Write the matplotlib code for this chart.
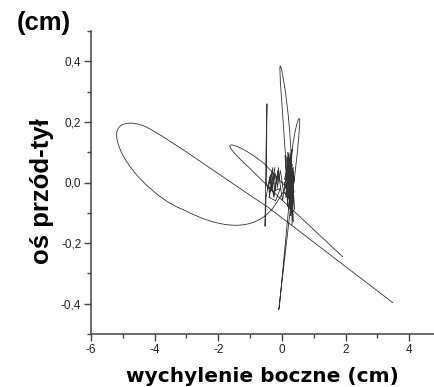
"""Stabilogram: sway path of the centre of pressure (lateral vs. antero-posterior)."""
import matplotlib
matplotlib.use("Agg")

import matplotlib.pyplot as plt
from matplotlib.path import Path
from matplotlib.patches import PathPatch
from matplotlib.ticker import FuncFormatter, MultipleLocator

plt.rcParams["axes.unicode_minus"] = False

# Sway path, in cm. "M" starts, "L" is a straight step,
# "C" points come in threes (two Bezier handles, then the end point).
knot_x = [0.05, 0.20, 0.32, 0.12, 0.36, 0.18, 0.28, 0.40, 0.08, 0.30, 0.22,
          0.38, 0.14, 0.33, 0.25, 0.10, 0.18, 0.22, 0.30, 0.26, 0.35, 0.15,
          0.28, 0.20, 0.38, 0.24, 0.32, 0.12, 0.30, 0.40, 0.22, 0.34, 0.18,
          0.28, 0.36, 0.08, 0.26, 0.05]
knot_y = [-0.03, 0.00, 0.06, -0.04, 0.03, 0.08, -0.07, 0.02, 0.01, 0.10, -0.09,
          -0.03, 0.05, -0.10, 0.07, 0.09, -0.08, 0.10, -0.10, 0.06, -0.06, 0.08,
          -0.11, 0.04, 0.02, -0.07, 0.11, -0.04, 0.07, -0.09, 0.05, -0.03, 0.10,
          -0.08, 0.04, 0.00, -0.06, -0.03]
left_x = [-0.05, -0.15, -0.10, -0.25, -0.20, -0.35, -0.28, -0.42, -0.38,
          -0.20, -0.05, -0.30, -0.22, -0.40, -0.33, -0.45]
left_y = [0.04, -0.02, 0.05, -0.04, 0.03, -0.03, 0.05, -0.01, -0.05,
          -0.06, -0.02, -0.03, 0.05, -0.05, 0.03, -0.02]

path_op = (
    ["M", "L"]
    + ["C"] * 3 + ["C"] * 3 + ["C"] * 3 + ["C"] * 3
    + ["L"] * len(knot_x)
    + ["L"] * len(left_x)
    + ["L"] * 5
    + ["L"] * 5
    + ["C"] * 3 + ["C"] * 3
    + ["L"] * 4
    + ["C"] * 3 + ["C"] * 3
    + ["L"] * 4
    + ["L"] * 3
    + ["L"] * 3
    + ["L"]
    + ["C"] * 3 + ["C"] * 3
    + ["L"]
)
path_x = (
    [3.49, -0.47]
    + [-1.50, -3.60, -4.30]
    + [-4.75, -5.25, -5.19]
    + [-5.10, -3.90, -3.11]
    + [-2.00, -0.90, -0.25]
    + knot_x
    + left_x
    # thin spike on the left of the knot
    + [-0.49, -0.47, -0.50, -0.53, -0.50]
    + [-0.38, -0.25, -0.12, 0.02, 0.15]
    # tall narrow loop
    + [0.05, -0.14, -0.03]
    + [0.06, 0.30, 0.30]
    + [0.20, 0.36, 0.10, 0.25]
    # second, lower loop
    + [0.30, 0.62, 0.55]
    + [0.50, 0.40, 0.35]
    + [0.32, 0.30, 0.36, 0.18]
    + [0.28, 0.12, 0.34]
    # long double stroke downwards
    + [-0.10, -0.08, 0.26]
    + [-0.53]
    # small ellipse, out to the lower right
    + [-1.10, -1.75, -1.62]
    + [-1.50, -0.90, -0.28]
    + [1.92]
)
path_y = (
    [-0.397, -0.079]
    + [-0.010, 0.150, 0.185]
    + [0.205, 0.200, 0.150]
    + [0.060, -0.060, -0.089]
    + [-0.150, -0.170, -0.080]
    + knot_y
    + left_y
    + [0.00, 0.26, 0.10, -0.145, -0.05]
    + [0.02, -0.05, 0.04, -0.06, 0.03]
    + [0.20, 0.42, 0.38]
    + [0.35, 0.18, 0.03]
    + [-0.05, 0.05, 0.02, 0.02]
    + [0.15, 0.27, 0.18]
    + [0.10, 0.02, -0.02]
    + [-0.14, 0.04, -0.13, 0.02]
    + [0.06, -0.05, -0.02]
    + [-0.42, -0.41, -0.03]
    + [0.06]
    + [0.110, 0.140, 0.115]
    + [0.090, 0.040, -0.030]
    + [-0.246]
)

x_major = [-6, -4, -2, 0, 2, 4]
y_major = [-0.4, -0.2, 0.0, 0.2, 0.4]

_CODES = {"M": Path.MOVETO, "L": Path.LINETO, "C": Path.CURVE4}

fig = plt.figure(figsize=(4.34, 3.87), dpi=100)
ax = fig.add_axes([91 / 434, 53 / 387, 343 / 434, 303 / 387])

sway = Path(list(zip(path_x, path_y)), [_CODES[op] for op in path_op])
ax.add_patch(PathPatch(sway, fill=False, edgecolor="#333333", lw=0.6))

ax.set_xlim(-6, 4.78)
ax.set_ylim(-0.5, 0.5)
ax.set_xticks(x_major)
ax.set_yticks(y_major)
ax.xaxis.set_minor_locator(MultipleLocator(1))
ax.yaxis.set_minor_locator(MultipleLocator(0.1))
ax.xaxis.set_major_formatter(FuncFormatter(lambda v, _: f"{v:.0f}"))
ax.yaxis.set_major_formatter(
    FuncFormatter(lambda v, _: f"{v:.1f}".replace(".", ",").replace("-0,0", "0,0")))

ax.spines[["top", "right"]].set_visible(False)
for side in ("left", "bottom"):
    ax.spines[side].set_color("#444444")
    ax.spines[side].set_linewidth(1.1)
ax.tick_params(which="major", length=5, width=1.0, color="#444444",
               labelsize=8.5, labelcolor="#222222", pad=2)
ax.tick_params(which="minor", length=3, width=1.0, color="#444444")
for lab in ax.get_xticklabels() + ax.get_yticklabels():
    lab.set_family(["Liberation Sans", "DejaVu Sans"])

fig.text(262 / 434, 1 - 377 / 387, "wychylenie boczne (cm)", ha="center",
         va="center", fontsize=14.5, fontweight="bold", family="DejaVu Sans")
fig.text(42 / 434, 1 - 191 / 387, "oś przód-tył", ha="center", va="center",
         rotation=90, fontsize=18.5, fontweight="bold",
         family=["Liberation Sans", "DejaVu Sans"])
fig.text(44 / 434, 1 - 23 / 387, "(cm)", ha="center", va="center",
         fontsize=18.5, fontweight="bold",
         family=["Liberation Sans", "DejaVu Sans"])

fig.savefig("out.png", dpi=100, facecolor="white")
